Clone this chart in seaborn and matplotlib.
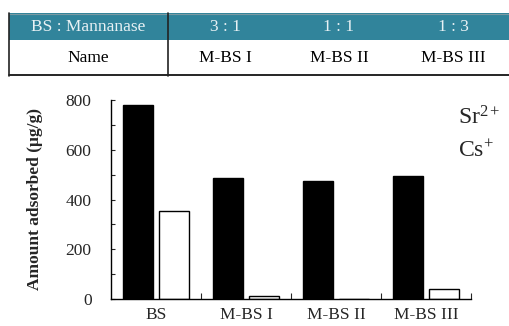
import numpy as np
import pandas as pd
import seaborn as sns
import matplotlib.pyplot as plt
from matplotlib.patches import Rectangle

# data
samples = ['BS', 'M-BS I', 'M-BS II', 'M-BS III']
sr_vals = [780, 485, 474, 494]
cs_vals = [354, 12, 2, 40]
ions = ['Sr$^{2+}$', 'Cs$^{+}$']

table_head = ['BS : Mannanase', '3 : 1', '1 : 1', '1 : 3']
table_row = ['Name', 'M-BS I', 'M-BS II', 'M-BS III']

df = pd.DataFrame({
    'sample': samples * 2,
    'ion': [ions[0]] * 4 + [ions[1]] * 4,
    'value': sr_vals + cs_vals,
})

sns.set_theme(style='ticks')
plt.rcParams['font.family'] = ['Liberation Serif', 'DejaVu Serif']
plt.rcParams['mathtext.fontset'] = 'custom'
plt.rcParams['mathtext.rm'] = 'Liberation Serif'
plt.rcParams['mathtext.it'] = 'Liberation Serif:italic'
plt.rcParams['mathtext.bf'] = 'Liberation Serif:bold'

fig = plt.figure(figsize=(5.1, 3.26), dpi=100)

# ---- table on top ----
tax = fig.add_axes([9 / 510, 1 - 76 / 326, 501 / 510, 63 / 326])
tax.set_xlim(0, 501)
tax.set_ylim(63, 0)
tax.axis('off')
col_x = [0, 159, 273, 387, 501]
head_h = 27
tax.add_patch(Rectangle((0, 0), 501, head_h, facecolor='#31849b', edgecolor='none'))
for i in range(4):
    cx = (col_x[i] + col_x[i + 1]) / 2
    tax.text(cx, head_h / 2 + 0.5, table_head[i], ha='center', va='center',
             fontsize=12.5, color='#e8f1f4')
    tax.text(cx, (head_h + 63) / 2, table_row[i], ha='center', va='center',
             fontsize=12.5, color='black')
tax.plot([0, 501], [0.5, 0.5], color='#7a9aa3', lw=0.8, clip_on=False)
tax.plot([0, 501], [62.3, 62.3], color='black', lw=1.2, clip_on=False)
tax.plot([0.5, 0.5], [0, 63], color='#222222', lw=1.2, clip_on=False)
tax.plot([159, 159], [0, 63], color='#222222', lw=1.2, clip_on=False)

# ---- bar chart ----
ax = fig.add_axes([111 / 510, 1 - 299 / 326, 360 / 510, 199 / 326])
sns.barplot(data=df, x='sample', y='value', hue='ion', palette=['black', 'white'],
            edgecolor='black', linewidth=1.0, width=0.8, gap=0.15, ax=ax)

ax.set_xlim(-0.5, 3.5)
ax.set_ylim(0, 800)
ax.set_yticks([0, 200, 400, 600, 800])
ax.set_yticks([100, 300, 500, 700], minor=True)
ax.set_xticks([0.5, 1.5, 2.5, 3.5], minor=True)
ax.tick_params(axis='y', which='both', direction='in', length=3, width=0.8,
               labelsize=12.5, pad=14)
ax.tick_params(axis='x', which='major', length=0, labelsize=12.5, pad=6)
ax.tick_params(axis='x', which='minor', direction='in', length=4, width=0.8)
ax.set_xlabel('')
ax.set_ylabel('Amount adsorbed (μg/g)', fontsize=12.5, fontweight='bold', labelpad=16)
sns.despine(ax=ax)
for s in ['left', 'bottom']:
    ax.spines[s].set_linewidth(1.0)
    ax.spines[s].set_color('black')

leg = ax.legend(loc='upper right', bbox_to_anchor=(1.14, 1.075), frameon=False,
                handlelength=0, handletextpad=0, fontsize=17, labelspacing=0.45)
for h in leg.legend_handles:
    h.set_visible(False)

fig.savefig('out.png', dpi=100)
